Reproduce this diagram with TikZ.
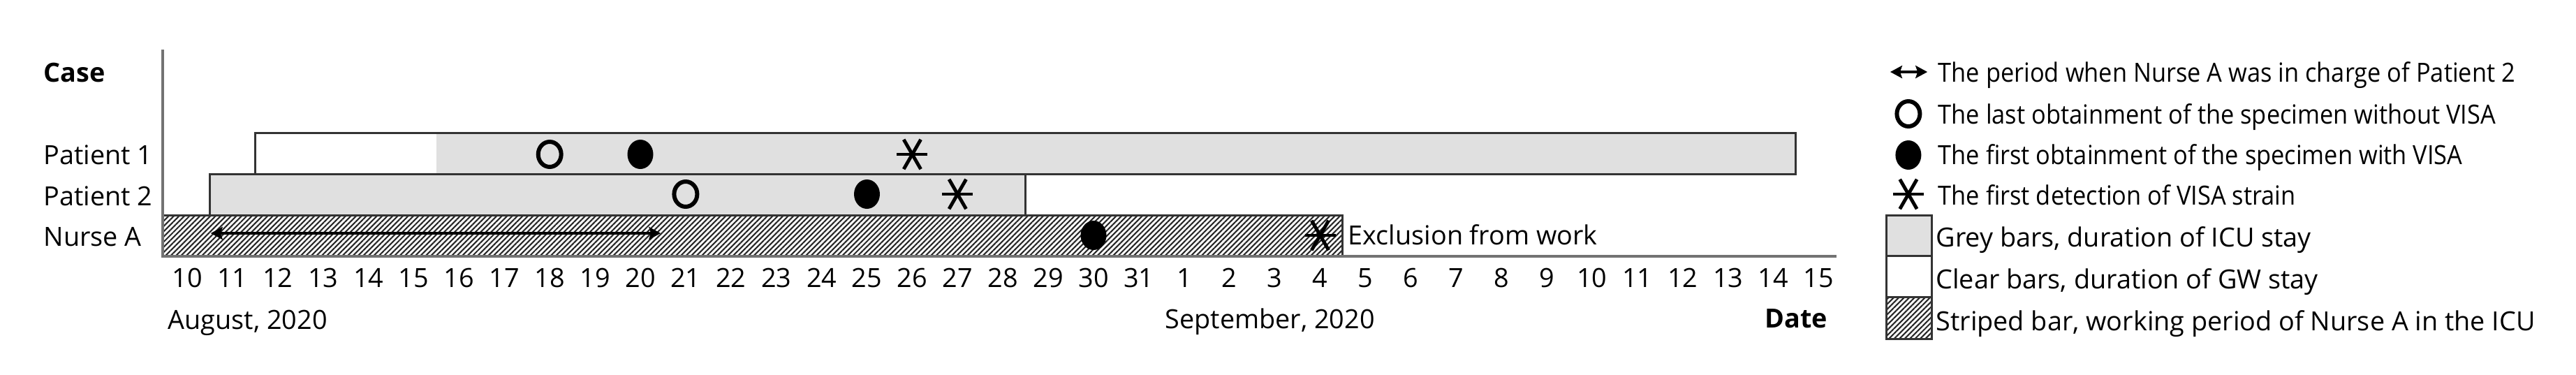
\documentclass[tikz,border=0pt]{standalone}
\usepackage{fontspec}
\setmainfont{Open Sans}
\newfontfamily\narrowfont{Open Sans}[FakeStretch=0.91]
\usetikzlibrary{positioning,arrows.meta,patterns.meta,shapes.geometric}
\newcommand{\lblfont}{\fontsize{10.75pt}{13pt}\selectfont}

\begin{document}
\begin{tikzpicture}[x=6.49mm,y=-0.1mm,font=\lblfont]
% STYLES
\tikzset{%
    lbl/.style={inner sep=0pt,anchor=base west},
    tick/.style={inner sep=0pt,anchor=base},
    bar/.style={draw=black!80,line width=0.85pt},
    icu/.style={bar,fill=black!12},
    gw/.style={bar,fill=white},
    work/.style={bar,pattern={Lines[angle=45,distance=1.5pt,line width=0.6pt]},pattern color=black!85},
    axis/.style={draw=black!55,line width=1.1pt},
    period/.style={{Stealth[length=1.7mm,width=1.8mm,inset=0.3mm]}-{Stealth[length=1.7mm,width=1.8mm,inset=0.3mm]},line width=1.2pt},
    nospec/.style={ellipse,draw,line width=1.7pt,minimum width=3.3mm,minimum height=3.6mm,inner sep=0pt},
    withspec/.style={ellipse,fill,minimum width=3.7mm,minimum height=4.2mm,inner sep=0pt},
    detect/.style={minimum size=5mm,inner sep=0pt,path picture={%
        \draw[line width=1.4pt] ([xshift=-2.2mm]path picture bounding box.center)
            -- ([xshift=2.2mm]path picture bounding box.center);
        \draw[line width=1.4pt] ([shift={(-1.22mm,-2.12mm)}]path picture bounding box.center)
            -- ([shift={(1.22mm,2.12mm)}]path picture bounding box.center);
        \draw[line width=1.4pt] ([shift={(1.22mm,-2.12mm)}]path picture bounding box.center)
            -- ([shift={(-1.22mm,2.12mm)}]path picture bounding box.center);}}
}
\useasboundingbox (-4.1294,0) rectangle (52.712,536);
% Draw cases
\node[lbl,font=\lblfont\bfseries] (case) at (-3.174,117) {Case};
\node[lbl] (pat1) at (-3.174,235) {Patient 1};
\node[lbl] (pat2) at (-3.174,294) {Patient 2};
\node[lbl] (nurse) at (-3.174,352) {Nurse A};
% Draw the bars
\fill[white] (1.5,190) rectangle (5.5,249);
\fill[black!12] (5.5,190) rectangle (35.5,249);
\draw[bar] (1.5,190) rectangle (35.5,249);
\draw[icu] (0.5,249) rectangle (18.5,308);
\draw[work] (-0.54,308) rectangle (25.5,367);
% Axis and dates
\coordinate (axtop) at (-0.54,71);
\coordinate (origin) at (-0.54,367);
\coordinate (axend) at (36.4,367);
\draw[axis] (axtop) -- (origin) -- (axend);
\foreach \i in {0,...,36}{
    \pgfmathtruncatemacro\dd{\i<22 ? \i+10 : \i-21}
    \node[tick] (t\i) at (\i,411) {\dd};
}
\node[lbl] (aug) at (-0.43,471) {August, 2020};
\node[lbl] (sep) at (21.57,470) {September, 2020};
\node[tick,font=\lblfont\bfseries] (date) at (35.5,469) {Date};
% Specimens and detections
\node[nospec] (p1o) at (8,221) {};
\node[withspec] (p1f) at (10,221) {};
\node[detect] (p1d) at (16,221) {};
\node[nospec] (p2o) at (11,278) {};
\node[withspec] (p2f) at (15,278) {};
\node[detect] (p2d) at (17,278) {};
\node[withspec] (nf) at (20,337) {};
\node[detect] (nd) at (25,337) {};
\node[lbl] (excl) at (25.61,350) {Exclusion from work};
% Period in charge of Patient 2
\coordinate (p2start) at (0.52,334);
\coordinate (p2end) at (10.45,334);
\draw[period] (p2start) -- (p2end);
% Legend
\coordinate (la) at (37.58,103);
\coordinate (lb) at (38.40,103);
\draw[period] (la) -- (lb);
\node[nospec] (lo) at (37.98,163) {};
\node[withspec] (lf) at (37.98,222) {};
\node[detect] (ld) at (37.98,278) {};
\draw[icu] (37.5,308) rectangle (38.49,366);
\draw[gw] (37.5,366) rectangle (38.49,425);
\draw[work] (37.5,425) rectangle (38.49,485);
\node[lbl,font=\lblfont\narrowfont] (l1) at (38.63,117) {The period when Nurse A was in charge of Patient 2};
\node[lbl,font=\lblfont\narrowfont] (l2) at (38.63,177) {The last obtainment of the specimen without VISA};
\node[lbl,font=\lblfont\narrowfont] (l3) at (38.63,235) {The first obtainment of the specimen with VISA};
\node[lbl,font=\lblfont\narrowfont] (l4) at (38.63,293) {The first detection of VISA strain};
\node[lbl] (l5) at (38.58,353) {Grey bars, duration of ICU stay};
\node[lbl] (l6) at (38.58,413) {Clear bars, duration of GW stay};
\node[lbl] (l7) at (38.58,473) {Striped bar, working period of Nurse A in the ICU};
\end{tikzpicture}
\end{document}
